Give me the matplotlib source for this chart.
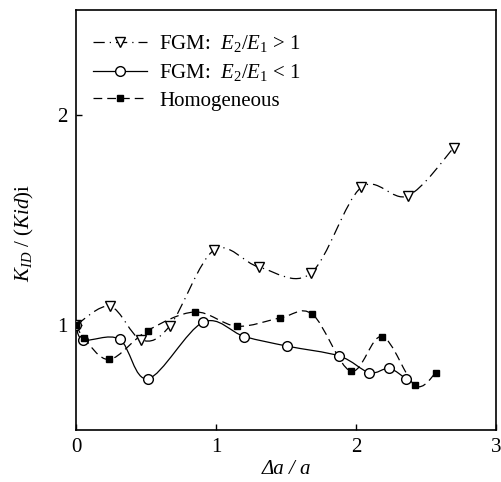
import numpy as np
import matplotlib
matplotlib.use("Agg")
import matplotlib.pyplot as plt
from matplotlib.path import Path
from matplotlib.patches import PathPatch
from matplotlib.lines import Line2D

plt.rcParams['font.family'] = ['Liberation Serif', 'DejaVu Serif']
plt.rcParams['mathtext.fontset'] = 'custom'
plt.rcParams['mathtext.rm'] = 'Liberation Serif'
plt.rcParams['mathtext.it'] = 'Liberation Serif:italic'
plt.rcParams['mathtext.bf'] = 'Liberation Serif:bold'

# values
x_up = [0.0, 0.243, 0.464, 0.671, 0.986, 1.31, 1.676, 2.036, 2.369, 2.698]
y_up = [1.0, 1.089, 0.929, 0.997, 1.357, 1.275, 1.246, 1.655, 1.615, 1.844]

x_down = [0.0, 0.052, 0.31, 0.514, 0.907, 1.202, 1.51, 1.881, 2.095, 2.236, 2.357]
y_down = [1.0, 0.929, 0.932, 0.744, 1.013, 0.945, 0.899, 0.852, 0.773, 0.793, 0.744]

x_hom = [0.0, 0.057, 0.238, 0.51, 0.848, 1.148, 1.457, 1.688, 1.962, 2.186, 2.421, 2.569]
y_hom = [1.0, 0.938, 0.836, 0.973, 1.062, 0.994, 1.033, 1.051, 0.78, 0.945, 0.712, 0.771]

labels = [r"FGM:  $E_2/E_1$ > 1", r"FGM:  $E_2/E_1$ < 1", "Homogeneous"]


def smooth_path(xs, ys):
    # cubic bezier through the points (catmull-rom style), like a "smoothed line"
    p = np.column_stack([xs, ys])
    n = len(p)
    verts = [p[0]]
    codes = [Path.MOVETO]
    for i in range(n - 1):
        p0 = p[i - 1] if i > 0 else p[i]
        p3 = p[i + 2] if i + 2 < n else p[i + 1]
        c1 = p[i] + (p[i + 1] - p0) / 6.0
        c2 = p[i + 1] - (p3 - p[i]) / 6.0
        verts += [c1, c2, p[i + 1]]
        codes += [Path.CURVE4] * 3
    return Path(verts, codes)


fig = plt.figure(figsize=(5.01, 4.82), dpi=100)
ax = fig.add_axes([0.152, 0.108, 0.838, 0.871])

styles = [
    (x_up, y_up, (0, (9, 4, 1, 4)), 'v', 'white', 7.5),
    (x_down, y_down, '-', 'o', 'white', 7),
    (x_hom, y_hom, (0, (7, 4)), 's', 'black', 5),
]

handles = []
for xs, ys, ls, mk, fc, ms in styles:
    patch = PathPatch(smooth_path(xs, ys), fill=False, edgecolor='black',
                      linewidth=0.9, linestyle=ls, zorder=2)
    ax.add_patch(patch)
    ax.plot(xs, ys, linestyle='none', marker=mk, markersize=ms,
            markerfacecolor=fc, markeredgecolor='black', markeredgewidth=1.0,
            zorder=3)
    handles.append(Line2D([], [], color='black', linewidth=0.9, linestyle=ls,
                          marker=mk, markersize=ms, markerfacecolor=fc,
                          markeredgecolor='black', markeredgewidth=1.0))

ax.set_xlim(0, 3)
ax.set_ylim(0.5, 2.5)
ax.set_xticks([0, 1, 2, 3])
ax.set_yticks([1, 2])
ax.tick_params(direction='in', length=4, width=1, labelsize=15, pad=6)
for s in ax.spines.values():
    s.set_linewidth(1.2)

ax.set_xlabel("Δa / a", fontsize=15, fontstyle='italic', labelpad=2)
ax.set_ylabel(r"$K_{ID}$ / $(Kid)$i", fontsize=15, labelpad=10)
ax.yaxis.set_label_coords(-0.095, 0.47)

ax.legend(handles, labels, loc='upper left', frameon=False, fontsize=15,
          handlelength=2.6, handletextpad=0.6, labelspacing=0.38,
          borderaxespad=0.4, bbox_to_anchor=(0.0, 0.985))

fig.savefig("out.png", dpi=100)
